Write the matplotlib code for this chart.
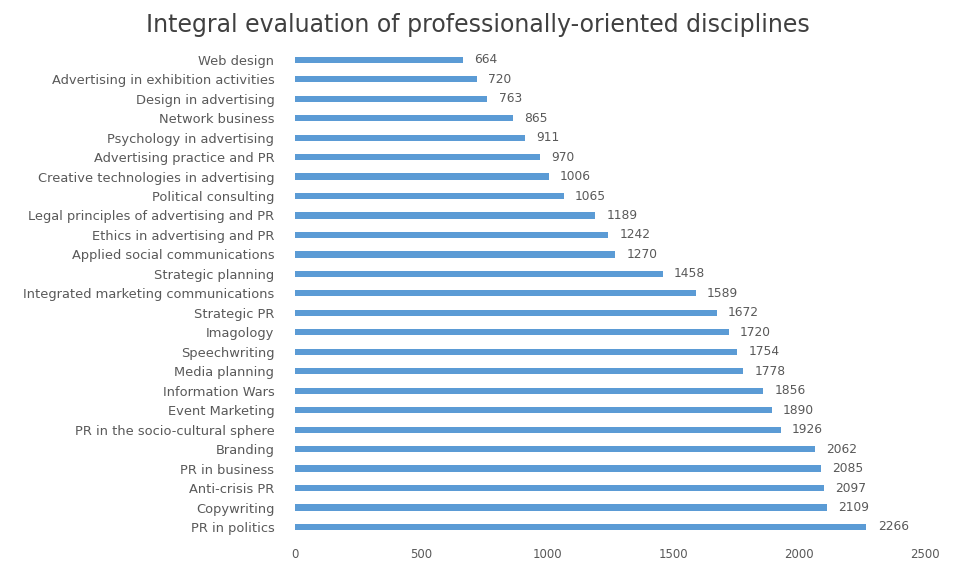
import matplotlib.pyplot as plt
import numpy as np

plt.rcParams['font.family'] = ['DejaVu Sans']

disciplines = [
    "Web design", "Advertising in exhibition activities", "Design in advertising",
    "Network business", "Psychology in advertising", "Advertising practice and PR",
    "Creative technologies in advertising", "Political consulting",
    "Legal principles of advertising and PR", "Ethics in advertising and PR",
    "Applied social communications", "Strategic planning",
    "Integrated marketing communications", "Strategic PR", "Imagology",
    "Speechwriting", "Media planning", "Information Wars", "Event Marketing",
    "PR in the socio-cultural sphere", "Branding", "PR in business",
    "Anti-crisis PR", "Copywriting", "PR in politics",
]
scores = [664, 720, 763, 865, 911, 970, 1006, 1065, 1189, 1242, 1270, 1458,
          1589, 1672, 1720, 1754, 1778, 1856, 1890, 1926, 2062, 2085, 2097,
          2109, 2266]
xticks = [0, 500, 1000, 1500, 2000, 2500]

grey = '#595959'
fig = plt.figure(figsize=(9.55, 5.62), dpi=100)
ax = fig.add_axes([0.309, 0.045, 0.66, 0.866])

y = np.arange(len(disciplines))
ax.barh(y, scores, height=0.32, color='#5B9BD5')
ax.set_ylim(len(disciplines) - 0.5, -0.5)
ax.set_xlim(0, 2500)
ax.set_yticks(y)
ax.set_yticklabels(disciplines, fontsize=9.4, color=grey)
ax.set_xticks(xticks)
ax.set_xticklabels([str(t) for t in xticks], fontsize=8.5, color=grey)
ax.tick_params(length=0)
ax.tick_params(axis='y', pad=15)
ax.tick_params(axis='x', pad=8)
for s in ax.spines.values():
    s.set_visible(False)

for yi, v in zip(y, scores):
    ax.text(v + 45, yi, str(v), va='center', ha='left', fontsize=8.8, color=grey)

fig.text(0.5, 0.955, "Integral evaluation of professionally-oriented disciplines",
         ha='center', va='center', fontsize=17, color='#404040')

fig.savefig('out.png', dpi=100, facecolor='white')
